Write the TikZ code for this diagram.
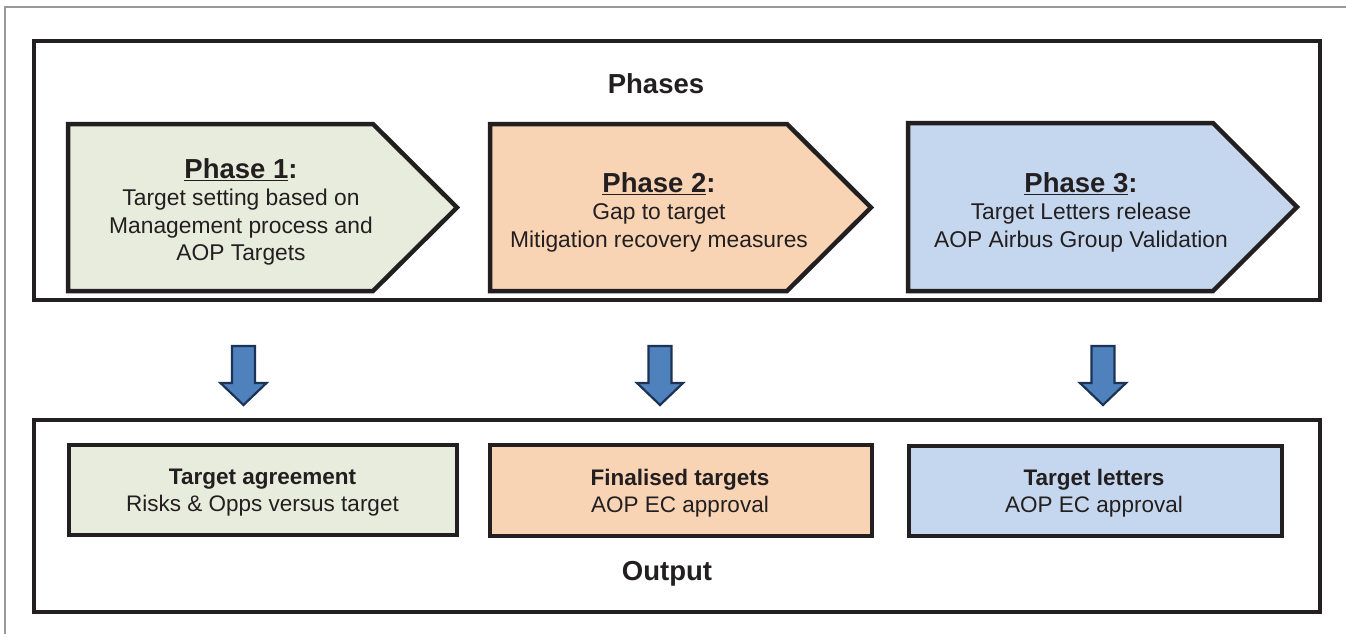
\documentclass[tikz,border=0pt]{standalone}
\usepackage{fontspec}
\setmainfont{Liberation Sans}
\definecolor{ink}{HTML}{231F20}
\definecolor{gfill}{HTML}{E8ECDC}
\definecolor{ofill}{HTML}{F8D3B4}
\definecolor{bfill}{HTML}{C5D7EE}
\definecolor{afill}{HTML}{4F81BD}
\definecolor{aline}{HTML}{1C3358}
\tikzset{
  frame/.style={draw=ink, line width=4.5pt},
  phasebox/.style={draw=ink, line width=4.5pt, line join=miter},
  outbox/.style={draw=ink, line width=4.5pt},
  downarrow/.style={draw=aline, fill=afill, line width=2.2pt, line join=miter},
  ptext/.style={align=center, font=\fontsize{22.8}{27.5}\selectfont, text=ink, inner sep=0pt},
  otext/.style={align=center, font=\fontsize{22.5}{27}\selectfont, text=ink, inner sep=0pt},
  title/.style={font=\fontsize{27.5}{30}\selectfont\bfseries, text=ink, inner sep=0pt}
}
\begin{document}
\begin{tikzpicture}[x=1pt,y=-1pt]
\useasboundingbox (0,0) rectangle (1346,634);
\fill[white] (0,0) rectangle (1346,634);
% thin outer frame (top and left)
\draw[gray!80, line width=1.5pt] (1346,7) -- (5,7) -- (5,634);
% Phases frame
\draw[frame] (34,41) rectangle (1320,300);
\node[title] (phases) at (656,84) {Phases};
% Phase shapes
\draw[phasebox, fill=gfill] (68,124) -- (373,124) -- (457,207.5) -- (373,291) -- (68,291) -- cycle;
\draw[phasebox, fill=ofill] (490,124) -- (787,124) -- (871,207.5) -- (787,291) -- (490,291) -- cycle;
\draw[phasebox, fill=bfill] (908,123) -- (1213,123) -- (1297,207) -- (1213,291) -- (908,291) -- cycle;
\node[ptext] (p1) at (241,212) {{\fontsize{27.5}{27.5}\selectfont\bfseries\underline{Phase 1}:}\\Target setting based on\\Management process and\\AOP Targets};
\node[ptext] (p2) at (659,212) {{\fontsize{27.5}{27.5}\selectfont\bfseries\underline{Phase 2}:}\\Gap to target\\Mitigation recovery measures};
\node[ptext] (p3) at (1081,212) {{\fontsize{27.5}{27.5}\selectfont\bfseries\underline{Phase 3}:}\\Target Letters release\\AOP Airbus Group Validation};
% Down arrows
\foreach \cx/\nm in {243.5/a1, 660/a2, 1103/a3}{
  \draw[downarrow] (\cx-11.5,346) -- (\cx+11.5,346) -- (\cx+11.5,383) -- (\cx+23,383)
    -- (\cx,405) -- (\cx-23,383) -- (\cx-11.5,383) -- cycle;
  \coordinate (\nm) at (\cx,375);
}
% Output frame
\draw[frame] (34,420) rectangle (1320,612);
\node[title] (output) at (667,574) {Output};
% Output boxes
\draw[outbox, fill=gfill] (69,445) rectangle (457,535);
\draw[outbox, fill=ofill] (490,445) rectangle (872,536);
\draw[outbox, fill=bfill] (909,446) rectangle (1282,536);
\node[otext] (o1) at (262.5,492.5) {\textbf{Target agreement}\\Risks \& Opps versus target};
\node[otext] (o2) at (680,493.5) {\textbf{Finalised targets}\\AOP EC approval};
\node[otext] (o3) at (1094,493.5) {\textbf{Target letters}\\AOP EC approval};
\end{tikzpicture}
\end{document}
